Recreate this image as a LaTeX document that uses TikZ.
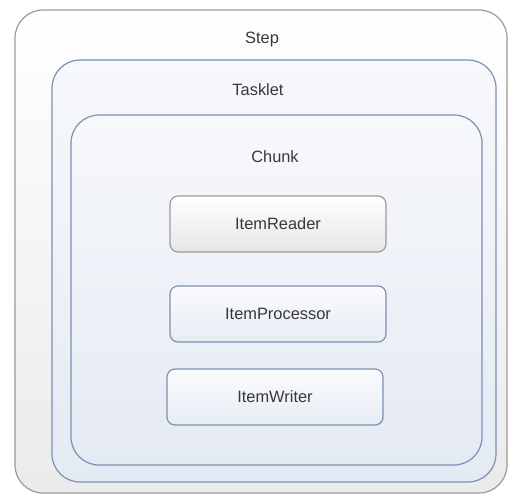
\documentclass[tikz,border=0pt]{standalone}
\usepackage{fontspec}
\setmainfont{Liberation Sans}
\usepackage{tikz}
\usetikzlibrary{positioning}

\definecolor{greyline}{HTML}{9A9A9A}
\definecolor{blueline}{HTML}{7B91B3}
\definecolor{bluetop}{HTML}{F7F8FB}
\definecolor{bluebot}{HTML}{E4EAF3}

\tikzset{
  outerbox/.style={draw=greyline, line width=1.2pt, rounded corners=28pt,
    top color=white, bottom color=black!8, inner sep=0pt},
  layerbox/.style={draw=blueline, line width=1.2pt, rounded corners=28pt,
    top color=bluetop, bottom color=bluebot, inner sep=0pt},
  itembox/.style={draw=blueline, line width=1.2pt, rounded corners=8pt,
    top color=bluetop!60!white, bottom color=bluebot!90!white,
    minimum width=216pt, minimum height=56pt, inner sep=0pt},
  readbox/.style={itembox, draw=greyline, top color=white, bottom color=black!10},
  caption/.style={text=black!78, font=\fontsize{16.4}{19}\selectfont}
}

\begin{document}
\begin{tikzpicture}[x=1pt, y=-1pt]
    \useasboundingbox (0,0) rectangle (526,503);

    % Nested containers
    \node[outerbox, minimum width=492pt, minimum height=483pt] (step) at (261,251.5) {};
    \node[layerbox, minimum width=444pt, minimum height=422pt] (tasklet) at (274,271) {};
    \node[layerbox, minimum width=411pt, minimum height=350pt] (chunk) at (276.5,290) {};

    % Container titles
    \node[caption] (steptitle) at (262,39) {Step};
    \node[caption] (tasklettitle) at (258,90) {Tasklet};
    \node[caption] (chunktitle) at (275,157) {Chunk};

    % Items inside the chunk
    \node[readbox] (reader) at (278,224) {};
    \node[caption] at (reader) {ItemReader};
    \foreach \name/\x/\y/\txt in {processor/278/314/ItemProcessor, writer/275/397/ItemWriter} {
      \node[itembox] (\name) at (\x,\y) {};
      \node[caption] at (\name) {\txt};
    }
\end{tikzpicture}
\end{document}
